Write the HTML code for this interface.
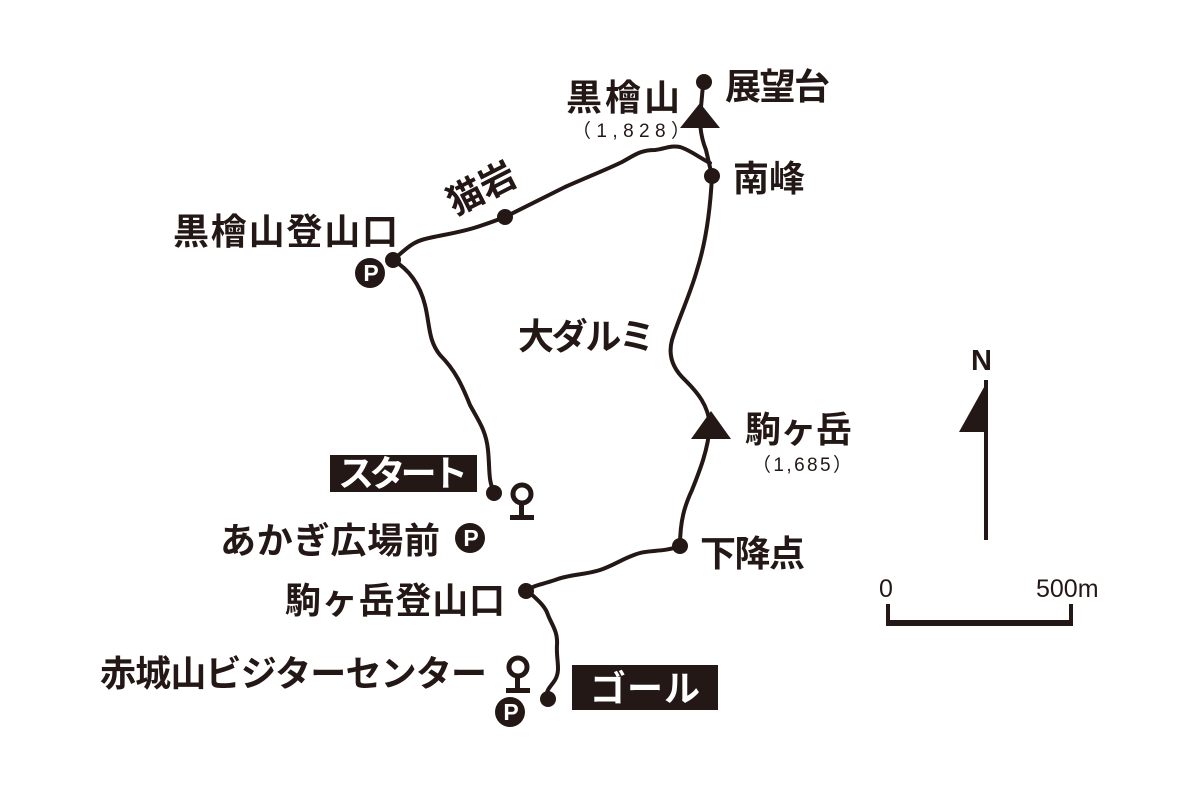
<!DOCTYPE html>
<html><head><meta charset="utf-8"><style>
html,body{margin:0;padding:0;background:#fff;}
svg{display:block;}
text{font-family:"Liberation Sans","Noto Sans CJK JP",sans-serif;font-weight:bold;}
.w{fill:#fff;}
.k{fill:#231815;}
</style></head><body>
<svg width="1200" height="800" viewBox="0 0 1200 800" xmlns="http://www.w3.org/2000/svg">
<rect width="1200" height="800" fill="#fff"/>
<g fill="none" stroke="#231815" stroke-width="4" stroke-linecap="round" stroke-linejoin="round">
<path d="M393,260 C405,250 412,242 425,239 C440,235 460,233 480,226 C495,221 500,219 505,217 C525,207 545,197 565,187 C590,176 610,168 622,162 C635,155 640,150 655,150 C665,149 670,145 680,147 C690,150 700,158 710,163"/>
<path d="M712,176 L706,150 C702,140 700,130 700,118 L703,85"/>
<path d="M712,176 C710,215 705,245 697,270 C690,295 678,320 672,340 C668,355 672,368 685,380 C698,393 708,405 710,425 C708,450 700,470 692,490 C685,505 680,520 680,546 C665,552 650,550 640,553 C625,557 615,565 600,570 C585,575 570,574 555,580 C540,585 535,585 527,590 C535,598 545,605 548,615 C552,625 558,632 557,645 C556,660 561,670 555,680 C550,688 545,690 548,698"/>
<path d="M393,260 C410,270 420,285 425,305 C430,325 428,340 440,355 C455,370 462,385 470,405 C478,420 486,430 488,450 C490,470 488,480 494,492"/>
</g>
<g fill="#231815">
<circle cx="393" cy="260" r="8"/>
<circle cx="505" cy="217" r="8"/>
<circle cx="712" cy="176" r="8"/>
<circle cx="704" cy="82" r="8"/>
<circle cx="494" cy="493" r="8"/>
<circle cx="680" cy="546" r="8"/>
<circle cx="526" cy="591" r="8"/>
<circle cx="548" cy="699" r="8"/>
<polygon points="700,103 680,128 720,128"/>
<polygon points="711,411 691,439 731,439"/>
<rect x="330" y="455" width="147" height="37"/>
<rect x="572" y="665" width="146" height="45"/>
<circle cx="370" cy="273" r="15"/>
<circle cx="470" cy="538" r="15"/>
<circle cx="510" cy="712" r="15"/>
<circle cx="522" cy="494" r="9" fill="none" stroke="#231815" stroke-width="5"/>
<rect x="519" y="502" width="5" height="14"/>
<rect x="510" y="515" width="24" height="5"/>
<circle cx="518" cy="667" r="9" fill="none" stroke="#231815" stroke-width="5"/>
<rect x="515" y="675" width="5" height="14"/>
<rect x="506" y="688" width="24" height="5"/>
<rect x="984" y="380" width="4" height="160"/>
<polygon points="988,380 959,432 988,432"/>
<rect x="886" y="604" width="4" height="22"/>
<rect x="1069" y="604" width="4" height="22"/>
<rect x="886" y="620" width="187" height="6"/>
</g>
<g font-size="23" text-anchor="middle">
<text class="w" x="371" y="281">P</text>
<text class="w" x="471" y="546">P</text>
<text class="w" x="511" y="720">P</text>
</g>
<g font-size="36">
<text class="k" x="566" y="110" textLength="114">黒檜山</text>
<text class="k" x="725" y="99" textLength="105">展望台</text>
<text class="k" x="733" y="191" textLength="72">南峰</text>
<text class="k" x="173" y="244" textLength="225">黒檜山登山口</text>
<text class="k" x="518" y="349" textLength="137">大ダルミ</text>
<text class="k" x="745" y="442" textLength="107">駒ヶ岳</text>
<text class="w" x="338" y="486" textLength="130">スタート</text>
<text class="k" x="220" y="553" textLength="220">あかぎ広場前</text>
<text class="k" x="700" y="566" textLength="105">下降点</text>
<text class="k" x="285" y="613" textLength="220">駒ヶ岳登山口</text>
<text class="k" x="100" y="686" textLength="387">赤城山ビジターセンター</text>
<text class="w" x="590" y="701" textLength="110">ゴール</text>
<text class="k" x="0" y="0" transform="translate(455,216) rotate(-27)">猫岩</text>
</g>
<text class="k" x="572" y="137" font-size="19" style="font-weight:normal" textLength="118">（1,828）</text>
<text class="k" x="752" y="471" font-size="19" style="font-weight:normal" textLength="100">（1,685）</text>
<text class="k" x="971" y="370" font-size="29">N</text>
<text class="k" x="879" y="597" font-size="25" style="font-weight:normal">0</text>
<text class="k" x="1036" y="597" font-size="25" style="font-weight:normal">500m</text>
</svg>
</body></html>
